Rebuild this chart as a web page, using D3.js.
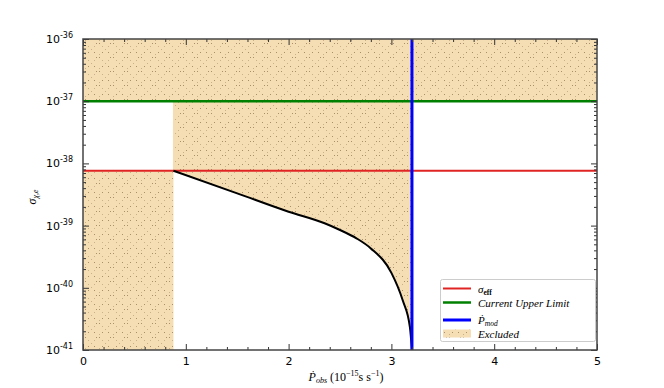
<!DOCTYPE html>
<html><head><meta charset="utf-8">
<script src="https://cdn.jsdelivr.net/npm/d3@7"></script>
<style>body{margin:0;background:#fff}</style></head>
<body><svg id="c" width="664" height="388"></svg>
<script>
// ---- data ----
const xTicks = [0, 1, 2, 3, 4, 5];
const yTickExps = [-41, -40, -39, -38, -37, -36];
const sigmaEff = 7.6e-39;      // red line
const upperLimit = 1e-37;      // green line
const pMod = 3.2;              // blue line
const pMin = 0.88;             // left edge of white region
const curveP = [0.88, 1.5, 2.0, 2.35, 2.5, 2.66, 2.8, 3.0, 3.11, 3.18, 3.2];
const curveSigma = [7.6e-39, 3.3e-39, 1.67e-39, 1.09e-39, 8.5e-40, 6.25e-40, 4.3e-40, 1.74e-40, 6.3e-41, 2.34e-41, 1.0e-41];
const legendLabels = ["σ_eff", "Current Upper Limit", "Ṗ_mod", "Excluded"];

// ---- layout ----
const svg = d3.select("#c");
const L = 83, R = 597, T = 39, B = 350;
const x = d3.scaleLinear().domain([0, 5]).range([L, R]);
const y = d3.scaleLog().domain([1e-41, 1e-36]).range([B, T]);
const wheat = "#f5deb3";

const defs = svg.append("defs");
const pat = defs.append("pattern").attr("id", "hatch").attr("patternUnits", "userSpaceOnUse")
  .attr("width", 14).attr("height", 14);
pat.append("rect").attr("width", 14).attr("height", 14).attr("fill", wheat);
[[1,1],[4,4],[10,10],[10,4],[4,10],[7,7],[12,1],[1,12]].forEach(([a,b],i)=>{
  pat.append("rect").attr("x", a).attr("y", b).attr("width", 1).attr("height", 1)
    .attr("fill", "#7a5a3a").attr("opacity", i%2 ? 0.35 : 0.6);
});
defs.append("clipPath").attr("id","clip").append("rect").attr("x",L).attr("y",T).attr("width",R-L).attr("height",B-T);

const plot = svg.append("g").attr("clip-path","url(#clip)");
const crv = d3.curveMonotoneX;
// excluded regions
plot.append("rect").attr("x", x(0)).attr("y", y(sigmaEff)).attr("width", x(pMin)-x(0)).attr("height", y(1e-41)-y(sigmaEff)).attr("fill","url(#hatch)");
plot.append("rect").attr("x", x(0)).attr("y", y(1e-36)).attr("width", x(5)-x(0)).attr("height", y(upperLimit)-y(1e-36)).attr("fill","url(#hatch)");
const pts = curveP.map((p,i)=>[p, curveSigma[i]]);
const area = d3.area().x(d=>x(d[0])).y0(d=>y(d[1])).y1(()=>y(upperLimit)).curve(crv);
plot.append("path").attr("d", area(pts)).attr("fill","url(#hatch)");
plot.append("rect").attr("x", x(pMin)-0.5).attr("y", y(upperLimit)).attr("width", x(pMod)-x(pMin)+1).attr("height", y(sigmaEff)-y(upperLimit)).attr("fill","url(#hatch)");

// lines
plot.append("line").attr("x1",x(0)).attr("x2",x(5)).attr("y1",y(sigmaEff)).attr("y2",y(sigmaEff)).attr("stroke","#e02424").attr("stroke-width",2);
plot.append("line").attr("x1",x(0)).attr("x2",x(5)).attr("y1",y(upperLimit)).attr("y2",y(upperLimit)).attr("stroke","#008000").attr("stroke-width",2.5);
const line = d3.line().x(d=>x(d[0])).y(d=>y(d[1])).curve(crv);
plot.append("path").attr("d", line(pts)).attr("fill","none").attr("stroke","#000").attr("stroke-width",2);
plot.append("line").attr("x1",x(pMod)).attr("x2",x(pMod)).attr("y1",y(1e-41)).attr("y2",y(1e-36)).attr("stroke","#0000ff").attr("stroke-width",3);

// axes
const minorX = d3.range(0, 5.001, 0.2).filter(v => Math.abs(v - Math.round(v)) > 1e-6);
const majorY = yTickExps.map(e => Math.pow(10, e));
const minorY = [];
yTickExps.slice(0, -1).forEach(e => { for (let k = 2; k <= 9; k++) minorY.push(k * Math.pow(10, e)); });

function styleAxis(g){ g.select(".domain").remove(); g.selectAll("line").attr("stroke","#333").attr("stroke-width",1); }
svg.append("g").attr("transform",`translate(0,${B})`).call(d3.axisBottom(x).tickValues(xTicks).tickSize(-6).tickPadding(7).tickFormat(d3.format("d"))).call(styleAxis)
  .selectAll("text").attr("font-family","DejaVu Sans").attr("font-size",11).attr("fill","#000");
svg.append("g").attr("transform",`translate(0,${B})`).call(d3.axisBottom(x).tickValues(minorX).tickSize(-3).tickFormat("")).call(styleAxis);
svg.append("g").attr("transform",`translate(0,${T})`).call(d3.axisTop(x).tickValues(xTicks).tickSize(-6).tickFormat("")).call(styleAxis);
svg.append("g").attr("transform",`translate(0,${T})`).call(d3.axisTop(x).tickValues(minorX).tickSize(-3).tickFormat("")).call(styleAxis);
svg.append("g").attr("transform",`translate(${L},0)`).call(d3.axisLeft(y).tickValues(majorY).tickSize(-6).tickFormat("")).call(styleAxis);
svg.append("g").attr("transform",`translate(${L},0)`).call(d3.axisLeft(y).tickValues(minorY).tickSize(-3).tickFormat("")).call(styleAxis);
svg.append("g").attr("transform",`translate(${R},0)`).call(d3.axisRight(y).tickValues(majorY).tickSize(-6).tickFormat("")).call(styleAxis);
svg.append("g").attr("transform",`translate(${R},0)`).call(d3.axisRight(y).tickValues(minorY).tickSize(-3).tickFormat("")).call(styleAxis);

// y tick labels
yTickExps.forEach(e => {
  const t = svg.append("text").attr("x", 73).attr("y", y(Math.pow(10,e)) + 4).attr("text-anchor","end")
    .attr("font-family","DejaVu Sans").attr("font-size",11).attr("fill","#000");
  t.append("tspan").text("10");
  t.append("tspan").attr("dy",-5).attr("font-size",8).text(String(e));
});

// frame
svg.append("rect").attr("x",L).attr("y",T).attr("width",R-L).attr("height",B-T).attr("fill","none").attr("stroke","#444").attr("stroke-width",1.5);

// axis labels
const xl = svg.append("text").attr("x", 346).attr("y", 381).attr("text-anchor","middle")
  .attr("font-family","Liberation Serif").attr("font-size",12).attr("fill","#000");
xl.append("tspan").attr("font-style","italic").text("Ṗ");
xl.append("tspan").attr("font-style","italic").attr("font-size",8).attr("dy",2).text("obs");
xl.append("tspan").attr("dy",-2).text(" (10");
xl.append("tspan").attr("font-size",8).attr("dy",-5).text("−15");
xl.append("tspan").attr("dy",5).text("s s");
xl.append("tspan").attr("font-size",8).attr("dy",-5).text("−1");
xl.append("tspan").attr("dy",5).text(")");

const yl = svg.append("text").attr("transform","translate(36,197) rotate(-90)").attr("text-anchor","middle")
  .attr("font-family","Liberation Serif").attr("font-size",12).attr("fill","#000");
yl.append("tspan").attr("font-style","italic").text("σ");
yl.append("tspan").attr("font-style","italic").attr("font-size",8).attr("dy",2).text("χ,e");

// legend
const lg = svg.append("g");
lg.append("rect").attr("x",440.5).attr("y",279.5).attr("width",155).attr("height",62).attr("rx",2)
  .attr("fill","#fff").attr("stroke","#ccc").attr("stroke-width",1);
const rows = [
  {y:288.5, type:"line", color:"#e02424", w:2},
  {y:302.5, type:"line", color:"#008000", w:2.5},
  {y:320, type:"line", color:"#0000ff", w:3},
  {y:333.5, type:"patch"}
];
rows.forEach((r,i) => {
  if (r.type === "line") {
    lg.append("line").attr("x1",443).attr("x2",471).attr("y1",r.y).attr("y2",r.y).attr("stroke",r.color).attr("stroke-width",r.w);
  } else {
    lg.append("rect").attr("x",443).attr("y",r.y-4).attr("width",28).attr("height",8).attr("fill","url(#hatch)");
  }
  const lab = legendLabels[i];
  const t = lg.append("text").attr("x",478).attr("y",r.y+4).attr("font-family","Liberation Serif")
    .attr("font-style","italic").attr("font-size",11).attr("fill","#000");
  if (lab.includes("_")) {
    const [a,b] = lab.split("_");
    t.append("tspan").text(a);
    t.append("tspan").attr("font-size",7.5).attr("dy",2).attr("font-style", b==="eff" ? "normal" : "italic").attr("font-weight", b==="eff"?"bold":"normal").text(b);
  } else t.text(lab);
});
</script></body></html>
